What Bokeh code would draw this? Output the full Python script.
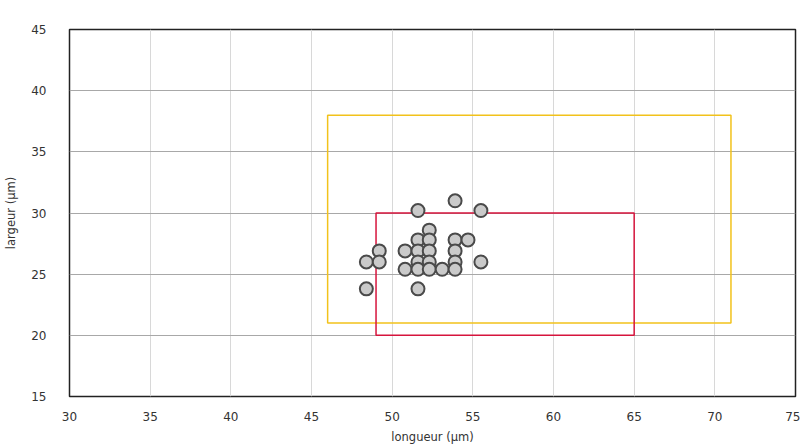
from bokeh.plotting import figure
from bokeh.embed import file_html
from bokeh.resources import INLINE
from bokeh.models import FixedTicker, ColumnDataSource

# Data
longueur = [48.4, 48.4, 49.2, 49.2, 50.8, 50.8,
            51.6, 51.6, 51.6, 51.6, 51.6, 51.6,
            52.3, 52.3, 52.3, 52.3, 52.3,
            53.1,
            53.9, 53.9, 53.9, 53.9, 53.9,
            54.7, 55.5, 55.5]
largeur = [26.0, 23.8, 26.9, 26.0, 26.9, 25.4,
           30.2, 27.8, 26.9, 26.0, 25.4, 23.8,
           28.6, 27.8, 26.9, 26.0, 25.4,
           25.4,
           31.0, 27.8, 26.9, 26.0, 25.4,
           27.8, 30.2, 26.0]

rect_left = [46, 49]
rect_right = [71, 65]
rect_bottom = [21, 20]
rect_top = [38, 30]
rect_colors = ["#f2c21b", "#d6143c"]

x_ticks = [30, 35, 40, 45, 50, 55, 60, 65, 70, 75]
y_ticks = [15, 20, 25, 30, 35, 40, 45]

p = figure(width=800, height=446, output_backend="svg", toolbar_location=None,
           x_range=(30, 75), y_range=(15, 45),
           min_border_left=69, min_border_right=5, min_border_top=29, min_border_bottom=50)

p.background_fill_color = "white"
p.outline_line_color = "#222222"
p.outline_line_width = 1.5

p.xgrid.grid_line_color = "#d8d8d8"
p.xgrid.grid_line_width = 1
p.ygrid.grid_line_color = "#a8a8a8"
p.ygrid.grid_line_width = 1

for ax in (p.xaxis, p.yaxis):
    ax.axis_line_color = None
    ax.major_tick_line_color = None
    ax.minor_tick_line_color = None
    ax.major_label_text_font = "DejaVu Sans"
    ax.major_label_text_font_size = "12px"
    ax.major_label_text_color = "#333333"
    ax.axis_label_text_font = "DejaVu Sans"
    ax.axis_label_text_font_size = "11.5px"
    ax.axis_label_text_font_style = "normal"
    ax.axis_label_text_color = "#333333"

p.xaxis.ticker = FixedTicker(ticks=x_ticks)
p.yaxis.ticker = FixedTicker(ticks=y_ticks)
p.xaxis.axis_label = "longueur (µm)"
p.yaxis.axis_label = "largeur (µm)"
p.xaxis.major_label_standoff = 9
p.yaxis.major_label_standoff = 17
p.xaxis.axis_label_standoff = 6
p.yaxis.axis_label_standoff = 10

rects = ColumnDataSource(dict(left=rect_left, right=rect_right, bottom=rect_bottom,
                              top=rect_top, color=rect_colors))
p.quad(left="left", right="right", bottom="bottom", top="top", source=rects,
       fill_color=None, line_color="color", line_width=1.5)

p.scatter(longueur, largeur, size=13, marker="circle", fill_color="#cacaca",
          line_color="#4a4a4a", line_width=2)

open("out.html", "w").write(file_html(p, INLINE))
